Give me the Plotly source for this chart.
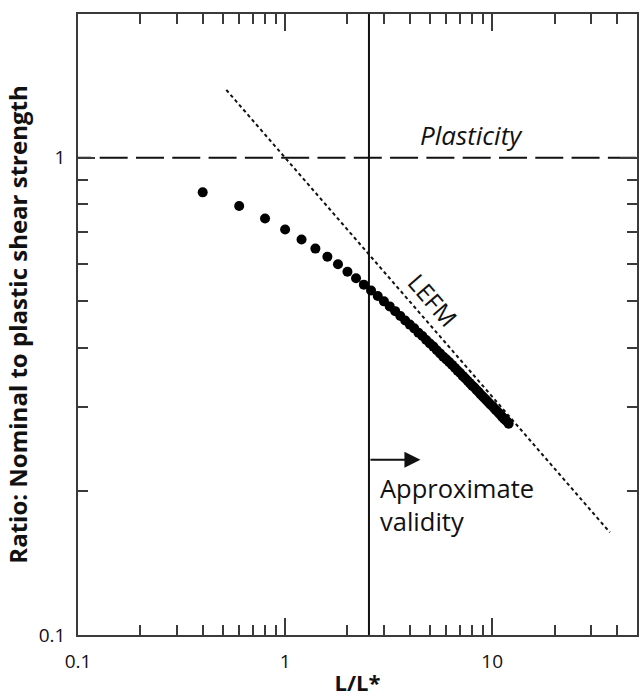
import numpy as np
import plotly.graph_objects as go

# ---- data ----
size_ratio = [0.4, 0.6, 0.8, 1.0, 1.2, 1.4, 1.6, 1.8, 2.0, 2.2, 2.4, 2.6, 2.8, 3.0,
              3.2, 3.4, 3.6, 3.8, 4.0, 4.2, 4.4, 4.6, 4.8, 5.0, 5.2, 5.4, 5.6, 5.8,
              6.0, 6.2, 6.4, 6.6, 6.8, 7.0, 7.2, 7.4, 7.6, 7.8, 8.0, 8.2, 8.4, 8.6,
              8.8, 9.0, 9.2, 9.4, 9.6, 9.8, 10.0, 10.2, 10.4, 10.6, 10.8, 11.0, 11.2,
              11.4, 11.6, 11.8, 12.0]
strength_ratio = [0.846, 0.792, 0.746, 0.707, 0.674, 0.645, 0.620, 0.598, 0.577, 0.559,
                  0.542, 0.527, 0.513, 0.500, 0.488, 0.477, 0.466, 0.456, 0.447, 0.439,
                  0.430, 0.423, 0.415, 0.408, 0.402, 0.395, 0.389, 0.383, 0.378, 0.373,
                  0.368, 0.363, 0.358, 0.354, 0.349, 0.345, 0.341, 0.337, 0.333, 0.330,
                  0.326, 0.323, 0.319, 0.316, 0.313, 0.310, 0.307, 0.304, 0.302, 0.299,
                  0.296, 0.294, 0.291, 0.289, 0.286, 0.284, 0.282, 0.280, 0.277]

lefm_x = [0.52, 37.0]
lefm_y = [1.387, 0.164]

plastic_x = [0.085, 50.0]
plastic_y = [1.0, 1.0]

validity_x = [2.54, 2.54]
validity_y = [0.1, 2.0]

arrow_from = 2.54
arrow_to = 4.5
arrow_level = 0.233

x_range = [0.1, 50.0]
y_range = [0.1, 2.0]

x_major = [0.1, 1, 10]
x_major_text = ["0.1", "1", "10"]
x_minor = [0.2, 0.3, 0.4, 0.5, 0.6, 0.7, 0.8, 0.9, 2, 3, 4, 5, 6, 7, 8, 9, 20, 30, 40]
y_major = [0.1, 1]
y_major_text = ["0.1", "1"]
y_minor = [0.2, 0.3, 0.4, 0.5, 0.6, 0.7, 0.8, 0.9]

FONT = "Open Sans"
AX = "#3a3a3a"

fig = go.Figure()

fig.add_trace(go.Scatter(x=plastic_x, y=plastic_y, mode="lines",
                         line=dict(color="#111", width=2, dash="28px,8.3px"),
                         hoverinfo="skip", showlegend=False))
fig.add_trace(go.Scatter(x=validity_x, y=validity_y, mode="lines",
                         line=dict(color="#111", width=2),
                         hoverinfo="skip", showlegend=False))
fig.add_trace(go.Scatter(x=lefm_x, y=lefm_y, mode="lines",
                         line=dict(color="#111", width=2, dash="3.5px,3px"),
                         hoverinfo="skip", showlegend=False))
fig.add_trace(go.Scatter(x=size_ratio, y=strength_ratio, mode="markers",
                         marker=dict(color="#000", size=10, symbol="circle"),
                         showlegend=False))

lg = np.log10

fig.add_annotation(x=lg(arrow_to), y=lg(arrow_level), ax=lg(arrow_from), ay=lg(arrow_level),
                   xref="x", yref="y", axref="x", ayref="y", text="",
                   showarrow=True, arrowhead=2, arrowsize=1.6, arrowwidth=2, arrowcolor="#111")

fig.add_annotation(x=lg(2.80), y=lg(0.2223), xref="x", yref="y",
                   text="Approximate<br>validity", showarrow=False,
                   xanchor="left", yanchor="top", align="left",
                   font=dict(family=FONT, size=25.5, color="#111"))

fig.add_annotation(x=lg(7.94), y=0.006, xref="x", yref="y",
                   text="<i>Plasticity</i>", showarrow=False,
                   xanchor="center", yanchor="bottom",
                   font=dict(family=FONT, size=26, color="#111"))

fig.add_annotation(x=lg(5.15), y=lg(0.504), xref="x", yref="y",
                   text="LEFM", showarrow=False, textangle=49,
                   font=dict(family=FONT, size=24, color="#111"))

axis_common = dict(
    type="log", showgrid=False, zeroline=False,
    showline=True, linecolor=AX, linewidth=1.5, mirror="ticks",
    ticks="inside", ticklen=17, tickwidth=1.5, tickcolor=AX,
    tickmode="array",
    tickfont=dict(family=FONT, size=19, color="#111"),
)

fig.update_xaxes(**axis_common, range=[lg(x_range[0]), lg(x_range[1])],
                 tickvals=x_major, ticktext=x_major_text, ticklabelstandoff=8,
                 minor=dict(tickmode="array", tickvals=x_minor, ticks="inside",
                            ticklen=10, tickwidth=1.5, tickcolor=AX, showgrid=False),
                 title=dict(text="L/L*", standoff=6,
                            font=dict(family=FONT, size=22, color="#111", weight="bold")))
fig.update_yaxes(**axis_common, range=[lg(y_range[0]), lg(y_range[1])],
                 tickvals=y_major, ticktext=y_major_text, ticklabelstandoff=7,
                 minor=dict(tickmode="array", tickvals=y_minor, ticks="inside",
                            ticklen=10, tickwidth=1.5, tickcolor=AX, showgrid=False),
                 title=dict(text="Ratio: Nominal to plastic shear strength", standoff=4,
                            font=dict(family=FONT, size=24, color="#111", weight="bold")))

fig.update_layout(
    width=643, height=697,
    margin=dict(l=78, r=6, t=14, b=62, autoexpand=False),
    plot_bgcolor="white", paper_bgcolor="white",
    showlegend=False,
)

fig.write_html("out.html")
